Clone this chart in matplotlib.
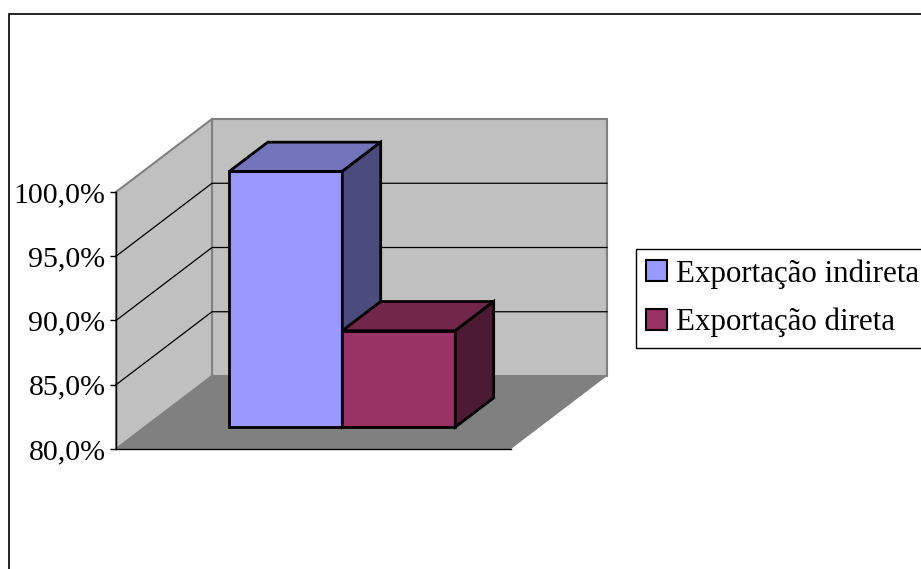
import matplotlib.pyplot as plt
from matplotlib.patches import Polygon, Patch, Rectangle

# dados do gráfico
series = ['Exportação indireta', 'Exportação direta']
values = [99.9, 87.5]
front_colors = ['#9999FF', '#993366']
top_colors = ['#7474BC', '#72264A']
side_colors = ['#4B4B7D', '#4D1A33']
y_ticks = [80, 85, 90, 95, 100]
y_labels = ['80,0%', '85,0%', '90,0%', '95,0%', '100,0%']

# perspectiva (deslocamento da profundidade em unidades dos eixos)
DX = 96 / 395.0
DY = 73 / 12.85
y_min, y_max = 80, 100


def proj(x, y, d):
    return (x + d * DX, y + d * DY)


def face(ax, pts, fc, ec, lw, z):
    ax.add_patch(Polygon(pts, closed=True, facecolor=fc, edgecolor=ec,
                         linewidth=lw, clip_on=False, zorder=z, joinstyle='miter'))


plt.rcParams['font.family'] = ['Liberation Serif', 'DejaVu Serif']

fig = plt.figure(figsize=(9.21, 5.69), dpi=100)
ax = fig.add_axes([116 / 921, (569 - 449) / 569, 395 / 921, 257 / 569])
ax.set_xlim(0, 1)
ax.set_ylim(y_min, y_max)
ax.patch.set_visible(False)

# paredes e piso
face(ax, [proj(0, y_min, 1), proj(1, y_min, 1), proj(1, y_max, 1), proj(0, y_max, 1)],
     '#C0C0C0', '#808080', 1.5, 1)
face(ax, [proj(0, y_min, 0), proj(0, y_min, 1), proj(0, y_max, 1), proj(0, y_max, 0)],
     '#C0C0C0', '#808080', 1.5, 1)
face(ax, [proj(0, y_min, 0), proj(1, y_min, 0), proj(1, y_min, 1), proj(0, y_min, 1)],
     '#808080', 'none', 0, 1.1)

# linhas de grade
for v in y_ticks[1:-1]:
    xs, ys = zip(proj(0, v, 0), proj(0, v, 1), proj(1, v, 1))
    ax.plot(xs, ys, color='black', lw=0.9, clip_on=False, zorder=1.2)

# barras
n = len(values)
bar_w = 0.286
x0 = (1 - n * bar_w) / 2
d0, d1 = 0.30, 0.70
for i, v in enumerate(values):
    xl = x0 + i * bar_w
    xr = xl + bar_w
    z = 3 + i
    face(ax, [proj(xl, y_min, d0), proj(xr, y_min, d0), proj(xr, v, d0), proj(xl, v, d0)],
         front_colors[i], 'black', 2, z)
    face(ax, [proj(xl, v, d0), proj(xr, v, d0), proj(xr, v, d1), proj(xl, v, d1)],
         top_colors[i], 'black', 2, z)
    face(ax, [proj(xr, y_min, d0), proj(xr, y_min, d1), proj(xr, v, d1), proj(xr, v, d0)],
         side_colors[i], 'black', 2, z)

# eixos
for s in ['top', 'right']:
    ax.spines[s].set_visible(False)
ax.spines['left'].set_linewidth(1)
ax.spines['bottom'].set_linewidth(1)
ax.set_xticks([])
ax.set_yticks(y_ticks)
ax.set_yticklabels(y_labels, fontsize=21.5)
ax.tick_params(axis='y', direction='out', length=4, width=1, pad=3.5)

# legenda
handles = [Patch(facecolor=c, edgecolor='black', linewidth=1.5) for c in front_colors]
fig.legend(handles, series, loc='upper left', bbox_to_anchor=(636 / 921, 1 - 249 / 569),
           borderaxespad=0, fontsize=22.3, frameon=True, fancybox=False, framealpha=1,
           edgecolor='black', handlelength=0.67, handleheight=0.67, handletextpad=0.3,
           labelspacing=0.62, borderpad=0.33)

# moldura externa
fig.add_artist(Rectangle((9 / 921, -0.1), 2, (569 - 14) / 569 + 0.1, transform=fig.transFigure,
                         fill=False, edgecolor='black', linewidth=1.2))

fig.savefig('out.png', dpi=100)
